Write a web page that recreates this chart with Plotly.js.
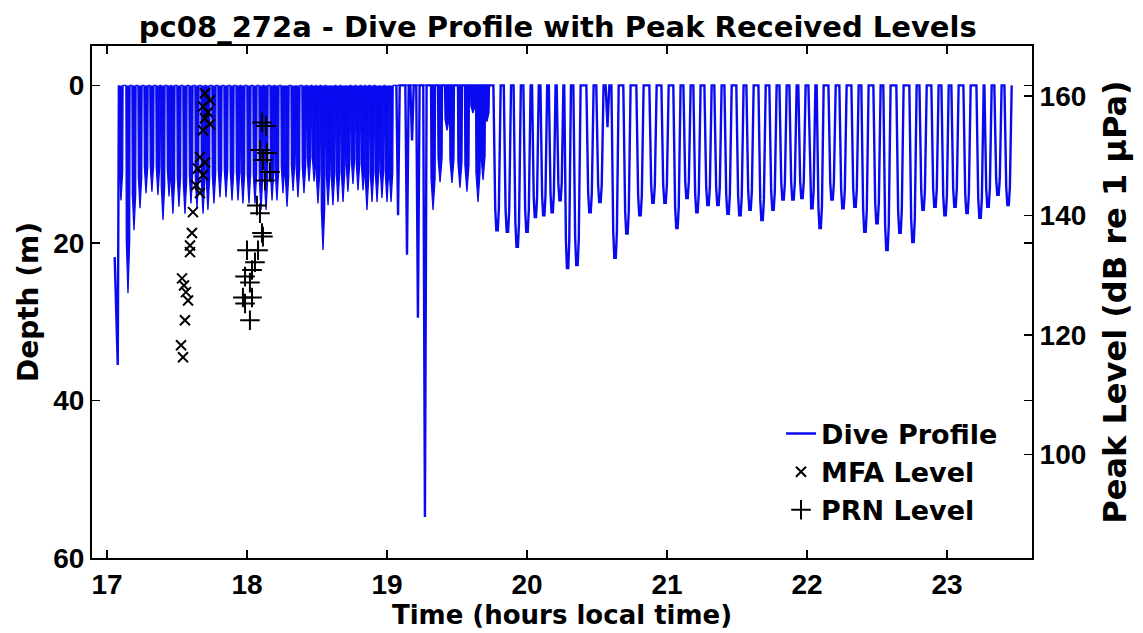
<!DOCTYPE html>
<html><head><meta charset="utf-8">
<script src="https://cdn.plot.ly/plotly-3.0.1.min.js"></script>
<style>html,body{margin:0;padding:0;background:#fff}#chart{width:1143px;height:633px}</style>
</head><body><div id="chart"></div>
<script>
// Partial first dive (record starts mid-water)
const leadTime = [17.055, 17.077];
const leadDepth = [21.8, 35.5];

// Dense, closely spaced dives (17.1-19.0 h and 19.3-19.7 h): start, end (hours), max depth (m)
const denseStart = [
 17.085,17.135,17.178,17.221,17.264,17.306,17.349,17.385,17.428,17.456,17.499,17.542,17.585,17.628,17.671,17.706,17.749,17.792,17.835,17.878,17.921,17.956,17.999,18.042,18.085,18.121,18.164,18.199,18.242,18.271,18.314,18.349,18.392,18.428,18.464,18.492,18.528,18.564,18.599,18.635,18.671,18.706,18.742,18.778,18.814,18.842,18.878,18.914,18.949,18.985,19.014,
 19.311,19.361,19.411,19.446,19.503,19.553,19.596,19.632,19.668,19.696
];
const denseEnd = [
 17.115,17.165,17.208,17.251,17.294,17.336,17.379,17.415,17.458,17.486,17.529,17.572,17.615,17.658,17.701,17.736,17.779,17.822,17.865,17.908,17.951,17.986,18.029,18.072,18.115,18.151,18.194,18.229,18.272,18.301,18.344,18.379,18.422,18.458,18.494,18.522,18.558,18.594,18.629,18.665,18.701,18.736,18.772,18.808,18.844,18.872,18.908,18.944,18.979,19.015,19.044,
 19.347,19.397,19.447,19.482,19.539,19.589,19.632,19.668,19.704,19.732
];
const denseMax = [
 14.6,26.4,18.4,15.6,13.7,13.5,13.9,17.1,14.1,16.3,15.4,16.3,15.0,15.6,16.3,15.8,15.0,14.2,14.2,14.6,14.6,15.0,15.0,15.0,15.8,15.8,14.6,14.6,13.7,15.4,13.4,14.2,13.7,12.2,12.2,15.0,20.9,15.2,15.2,14.8,14.8,13.5,12.5,13.3,13.3,15.8,14.8,14.8,14.3,14.8,14.8,
 15.8,12.3,5.7,12.4,13.0,13.5,3.5,14.8,12.0,4.6
];

// Separate dives (19.05-19.3 h and 19.75-23.5 h): start, end (hours), max depth (m)
const diveStart = [
 19.067,19.131,19.167,19.209,19.259,
 19.760,19.834,19.904,19.974,20.036,20.096,20.156,20.212,20.266,20.331,20.424,20.495,20.562,20.603,20.688,20.781,20.874,20.960,21.045,21.117,21.188,21.267,21.338,21.410,21.495,21.567,21.653,21.731,21.803,21.874,21.938,22.010,22.069,22.153,22.231,22.317,22.388,22.474,22.545,22.638,22.731,22.803,22.888,22.960,23.031,23.117,23.210,23.267,23.338,23.410
];
const diveEnd = [
 19.091,19.155,19.191,19.233,19.283,
 19.812,19.886,19.956,20.026,20.084,20.144,20.204,20.260,20.314,20.383,20.476,20.547,20.588,20.655,20.740,20.833,20.926,21.012,21.097,21.169,21.240,21.319,21.390,21.462,21.547,21.619,21.705,21.783,21.855,21.926,21.990,22.060,22.119,22.205,22.283,22.369,22.440,22.526,22.597,22.690,22.783,22.855,22.940,23.012,23.083,23.169,23.262,23.319,23.390,23.462
];
const diveMax = [
 16.5,21.5,7.0,29.5,54.8,
 18.4,18.6,20.5,18.6,16.7,16.5,16.1,14.6,23.2,22.8,16.1,14.8,5.3,21.9,18.8,16.5,14.9,14.9,18.1,14.3,16.1,15.2,15.2,16.3,16.5,15.8,17.1,15.8,14.5,14.5,14.3,15.6,18.1,14.5,15.6,15.4,18.6,17.5,20.9,18.7,19.9,15.8,15.4,16.5,15.4,16.2,16.8,15.4,13.9,15.2
];

// Peak received levels (dB re 1 uPa)
const mfaTime  = [17.614,17.607,17.593,17.593,17.536,17.550,17.564,17.579,17.557,17.529,17.543,17.700,17.736,17.686,17.721,17.700,17.736,17.686,17.664,17.700,17.650,17.686,17.636,17.664];
const mfaLevel = [140.6,137.1,135.0,133.9,129.5,128.3,127.2,125.8,122.5,118.3,116.3,160.5,159.3,158.3,157.3,156.3,155.3,154.3,149.8,148.9,147.9,146.8,145.1,143.8];
const prnTime  = [18.114,18.000,18.079,18.057,18.036,17.986,18.021,17.971,18.036,17.986,18.021,18.107,18.136,18.093,18.143,18.114,18.164,18.129,18.071,18.093,18.107];
const prnLevel = [136.5,134.2,134.2,132.2,130.9,129.8,128.8,126.3,126.3,125.3,122.5,155.6,155.0,151.0,150.5,149.3,147.3,145.9,141.7,140.4,137.1];

const xTicks = [17,18,19,20,21,22,23];
const depthTicks = [0,20,40,60];
const levelTicks = [100,120,140,160];

// Build polylines from the dive records
function buildProfile(starts, ends, maxes, columnar) {
  const t = [], d = [];
  for (let i = 0; i < starts.length; i++) {
    const s = starts[i], e = ends[i], m = maxes[i], w = e - s;
    if (columnar) {
      t.push(s, s + 0.1*w, (s + e)/2, e - 0.1*w, e); d.push(0, 0.75*m, m, 0.75*m, 0);
    } else if (w < 0.03) {
      t.push(s, (s + e)/2, e); d.push(0, m, 0);
    } else {
      t.push(s, s + 0.25*w, s + 0.4*w, e - 0.4*w, e - 0.25*w, e);
      d.push(0, 0.85*m, m, m, 0.85*m, 0);
    }
  }
  return {t, d};
}
const dense = buildProfile(denseStart, denseEnd, denseMax, true);
const open = buildProfile(diveStart, diveEnd, diveMax, false);

const BLUE = '#0a0af0';
const TFONT = 'DejaVu Sans, Verdana, sans-serif';
const NFONT = 'Liberation Sans, Arial, Helvetica, sans-serif';
const traces = [
  {x: open.t, y: open.d, type: 'scatter', mode: 'lines', name: 'Dive Profile',
   line: {color: BLUE, width: 2.4}, xaxis: 'x', yaxis: 'y'},
  {x: dense.t, y: dense.d, type: 'scatter', mode: 'lines', name: 'Dive Profile', showlegend: false,
   fill: 'tozeroy', fillcolor: BLUE, line: {color: BLUE, width: 1.3}, xaxis: 'x', yaxis: 'y'},
  {x: leadTime.concat([denseStart[0]]), y: leadDepth.concat([0]), type: 'scatter', mode: 'lines',
   name: 'Dive Profile', showlegend: false, line: {color: BLUE, width: 2.4}, xaxis: 'x', yaxis: 'y'},
  {x: mfaTime, y: mfaLevel, type: 'scatter', mode: 'markers', name: 'MFA Level',
   marker: {symbol: 'x-thin', size: 10, color: '#000', line: {color: '#000', width: 2}}, xaxis: 'x', yaxis: 'y2'},
  {x: prnTime, y: prnLevel, type: 'scatter', mode: 'markers', name: 'PRN Level',
   marker: {symbol: 'cross-thin', size: 14, color: '#000', line: {color: '#000', width: 2}}, xaxis: 'x', yaxis: 'y2'}
];

const axisCommon = {
  ticks: 'inside', ticklen: 8, tickwidth: 1.5, tickcolor: '#000',
  showline: true, linecolor: '#000', linewidth: 2, showgrid: false, zeroline: false,
  tickfont: {family: NFONT, size: 28, color: '#000', weight: 700}
};

const layout = {
  width: 1143, height: 633,
  margin: {l: 92, r: 111, t: 46, b: 75, pad: 0},
  paper_bgcolor: '#fff', plot_bgcolor: '#fff',
  font: {family: TFONT, color: '#000', size: 26, weight: 700},
  title: {text: 'pc08_272a - Dive Profile with Peak Received Levels',
          font: {family: TFONT, size: 29, color: '#000', weight: 700},
          x: 0.488, xanchor: 'center', y: 0.957, yanchor: 'middle', yref: 'container'},
  showlegend: true,
  legend: {x: 0.733, y: 0.29, xanchor: 'left', yanchor: 'top', bgcolor: 'rgba(0,0,0,0)',
           font: {family: TFONT, size: 27, color: '#000', weight: 700}, tracegroupgap: 0, itemwidth: 30},
  xaxis: Object.assign({}, axisCommon, {range: [16.893, 23.607], tickvals: xTicks, mirror: 'ticks',
          title: {text: 'Time (hours local time)', standoff: 2, font: {family: TFONT, size: 26, color: '#000', weight: 700}}}),
  yaxis: Object.assign({}, axisCommon, {range: [60, -5], tickvals: depthTicks, mirror: 'ticks',
          title: {text: 'Depth (m)', standoff: 6, font: {family: TFONT, size: 28, color: '#000', weight: 700}}}),
  yaxis2: Object.assign({}, axisCommon, {overlaying: 'y', side: 'right', range: [82.7, 168.4], tickvals: levelTicks,
          title: {text: 'Peak Level (dB re 1 µPa)', standoff: 18, font: {family: TFONT, size: 32, color: '#000', weight: 700}}})
};

Plotly.newPlot('chart', traces, layout, {displayModeBar: false, staticPlot: true});
</script>
</body></html>
